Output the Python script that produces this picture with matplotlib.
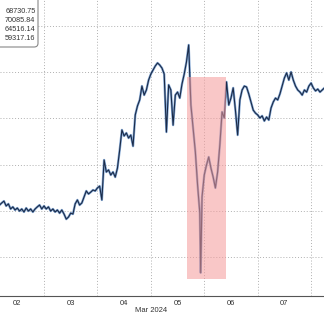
import matplotlib
matplotlib.use("Agg")
import matplotlib.pyplot as plt
import matplotlib.dates as mdates
from matplotlib.patches import Rectangle, FancyBboxPatch
import pandas as pd

# hours since 2024-03-02 00:00
hours = [4, 5, 6, 7, 8, 9, 10, 11, 12, 13, 14, 15, 16, 17, 18, 19, 20, 21, 22, 23,
         24, 25, 26, 27, 28, 29, 30, 31, 32, 33, 34, 35, 36, 37, 38, 39, 40, 41, 42, 43, 44, 45, 46, 47,
         48, 49, 50, 51, 52, 53, 54, 55, 56, 57, 58, 59, 60, 61, 62, 63, 64, 65, 66, 67, 68, 69, 70, 71,
         72, 73, 74, 75, 76, 77, 78, 79, 80, 81, 82, 83, 84, 85, 86, 87, 88, 89, 90, 91, 92, 93, 94, 94.4, 94.8, 95,
         96, 97, 98, 99, 100, 101, 102, 103, 104, 105, 106, 107, 108, 109, 110, 111, 112, 113, 114, 115, 116, 117, 118, 119,
         120, 121, 122, 123, 124, 125, 126, 127, 128, 129, 130, 131, 132, 133, 134, 135, 136, 137, 138, 139, 140, 141, 142, 143,
         144, 145, 146, 147, 148, 149, 150]
prices = [62250, 62340, 62420, 62210, 62300, 62080, 62170, 62035, 62120, 61990, 62080, 61950, 62120, 61990, 62080, 61950, 62080, 62170, 62250, 62080,
          62210, 62080, 62170, 61990, 62080, 61950, 62035, 61900, 62035, 61860, 61640, 61730, 61900, 61860, 62300, 62470, 62250, 62340, 62600, 62860, 62730, 62810, 62900, 62860,
          62990, 63070, 62470, 64200, 63680, 63770, 63550, 63680, 63460, 63850, 64630, 65500, 65240, 65370, 65150, 65280, 64800, 66150, 66540, 66800, 67400, 67010, 67230, 67660,
          67920, 68100, 68270, 68400, 68310, 68180, 67920, 65410, 67450, 67230, 65710, 67010, 67140, 66880, 67490, 67920, 68440, 69180, 66580, 65580, 64550, 63120, 61900, 59317, 61385, 62600,
          63550, 63980, 64330, 63850, 63460, 62990, 63680, 64850, 66280, 66020, 67580, 66580, 66880, 67320, 66360, 65280, 66800, 67230, 67400, 67360, 67060, 66710, 66360, 66230,
          66150, 66020, 66110, 65890, 66060, 65930, 66450, 66710, 66880, 66800, 67060, 67400, 67750, 67970, 67660, 68010, 67660, 67400, 67230, 67140, 67010, 67230, 67140, 67400,
          67530, 67320, 67190, 67270, 67140, 67230, 67320]

legend_values = ["68730.75", "70085.84", "64516.14", "59317.16"]
day_labels = ["02", "03", "04", "05", "06", "07"]
month_label = "Mar 2024"
highlight_hours = (88.4, 105.8)
highlight_prices = (59061, 67784)

base = pd.Timestamp("2024-03-02 00:00")
times = [base + pd.Timedelta(hours=h) for h in hours]

FONT = ["Liberation Sans", "DejaVu Sans"]

W, H = 324, 315
fig = plt.figure(figsize=(W / 100, H / 100), dpi=100)
ax = fig.add_axes([0, (H - 296) / H, 1, 296 / H])

ax.plot(times, prices, color="#4f82c2", lw=1.7, alpha=0.7, zorder=2)
ax.plot(times, prices, color="#1b2b48", lw=0.8, zorder=2.5)

hx0 = mdates.date2num(base + pd.Timedelta(hours=highlight_hours[0]))
hx1 = mdates.date2num(base + pd.Timedelta(hours=highlight_hours[1]))
ax.add_patch(Rectangle((hx0, highlight_prices[0]), hx1 - hx0,
                       highlight_prices[1] - highlight_prices[0],
                       facecolor="#f59a9a", alpha=0.55, edgecolor="none", zorder=3))

ax.set_xlim(base + pd.Timedelta(hours=4.23), base + pd.Timedelta(hours=149.8))
ax.set_ylim(58312, 71126)

# gridlines at day boundaries, labels at noon
ax.xaxis.set_minor_locator(mdates.DayLocator())
major_pos = [base + pd.Timedelta(hours=12 + 24 * i) for i in range(len(day_labels))]
ax.set_xticks(major_pos)
ax.set_xticklabels(day_labels, family=FONT)
ax.grid(True, which="minor", axis="x", color="#b0b0b0", linestyle=(0, (1, 2)), lw=0.7)
ax.set_yticks([60000, 62000, 64000, 66000, 68000, 70000])
ax.grid(True, which="major", axis="y", color="#b0b0b0", linestyle=(0, (1, 2)), lw=0.7)
ax.tick_params(axis="x", which="both", length=0, labelsize=5.5, pad=3, colors="#333333")
ax.tick_params(axis="y", which="both", length=0, labelleft=False)
for s in ["top", "left", "right"]:
    ax.spines[s].set_visible(False)
ax.spines["bottom"].set_color("#555555")
ax.spines["bottom"].set_linewidth(0.8)

fig.text(151 / W, 1 - 310 / H, month_label, ha="center", va="center", fontsize=5.5,
         color="#333333", family=FONT)

# legend box (partially cropped at the left/top)
box = FancyBboxPatch((-20 / W, 1 - 47 / H), 58 / W, 60 / H,
                     boxstyle="round,pad=0,rounding_size=0.012",
                     transform=fig.transFigure, facecolor="white", edgecolor="#888888",
                     lw=0.8, zorder=10)
fig.add_artist(box)
rows_y = [11.5, 20.5, 29.5, 38.5]
for v, yy in zip(legend_values, rows_y):
    fig.text(35.5 / W, 1 - yy / H, v, ha="right", va="center", fontsize=5.2,
             color="#333333", family=FONT, zorder=11)

fig.savefig("out.png", dpi=100)
